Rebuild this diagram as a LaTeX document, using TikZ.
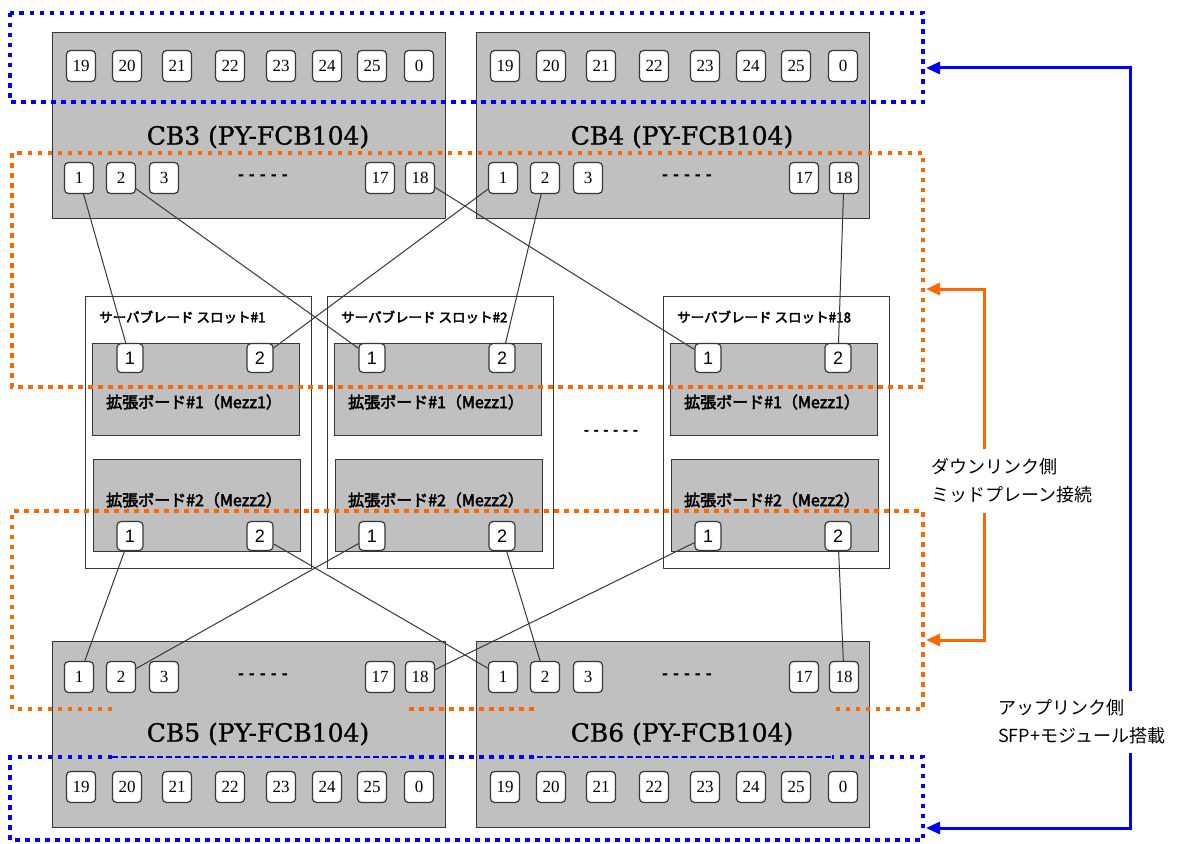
\documentclass[tikz,border=0pt]{standalone}
\usepackage{fontspec}
\usetikzlibrary{arrows.meta}
\newfontfamily\jpfont{Noto Sans CJK JP}
\newfontfamily\jpbold[FakeBold=3]{Noto Sans CJK JP}
\newfontfamily\cbfont[FakeBold=1]{DejaVu Serif}
\newfontfamily\numfont{Liberation Serif}
\newfontfamily\sansnum{Liberation Sans}
\definecolor{boxgray}{RGB}{192,192,192}
\definecolor{edgegray}{RGB}{55,55,55}
\definecolor{upblue}{RGB}{0,0,255}
\definecolor{downorange}{RGB}{255,102,0}

\tikzset{
  cbbox/.style={draw=edgegray, fill=boxgray, line width=1.4pt, minimum width=393pt, minimum height=186pt, inner sep=0pt, anchor=north west},
  cbname/.style={font=\cbfont\fontsize{25}{25}\selectfont, inner sep=0pt},
  cbport/.style={draw=edgegray, fill=white, line width=1.2pt, rounded corners=4pt, minimum width=29pt, minimum height=31pt, inner sep=0pt, font=\numfont\fontsize{17}{17}\selectfont},
  slotbox/.style={draw=edgegray, fill=white, line width=1.2pt, minimum width=226pt, minimum height=272pt, inner sep=0pt, anchor=north west},
  mezzbox/.style={draw=edgegray, fill=boxgray, line width=1.4pt, minimum width=207pt, minimum height=92pt, inner sep=0pt, anchor=north west},
  mezzport/.style={draw=edgegray, fill=white, line width=1.2pt, rounded corners=4pt, minimum width=26pt, minimum height=29pt, inner sep=0pt, font=\sansnum\fontsize{18}{18}\selectfont},
  slottitle/.style={font=\jpbold\fontsize{13.5}{13.5}\selectfont, inner sep=0pt, anchor=west},
  mezzname/.style={font=\jpbold\fontsize{16}{16}\selectfont, inner sep=0pt},
  dashtext/.style={font=\sansnum\bfseries\fontsize{18}{18}\selectfont, inner sep=0pt},
  wire/.style={draw=edgegray, line width=1pt},
  upframe/.style={draw=upblue, line width=4.5pt, dash pattern=on 4.5pt off 5.5pt},
  upthin/.style={draw=upblue, line width=1.2pt, dash pattern=on 6pt off 3pt},
  downframe/.style={draw=downorange, line width=4.5pt, dash pattern=on 4.5pt off 5.5pt},
  sidelabel/.style={font=\jpfont\fontsize{18}{28}\selectfont, align=left, inner xsep=0pt, inner ysep=9pt, anchor=west},
  uparrow/.style={draw=upblue, line width=3pt, -{Triangle[length=14pt,width=12pt]}},
  downarrow/.style={draw=downorange, line width=3pt, -{Triangle[length=14pt,width=12pt]}}
}

\begin{document}
\begin{tikzpicture}[x=1pt, y=-1pt]
\useasboundingbox (0,0) rectangle (1196,843);

% connection blades
\foreach \cb/\ox/\ty/\yu/\yd/\yl in {3/0/32/66/178/137, 4/424/32/66/178/137, 5/0/641/787/677/734, 6/424/641/787/677/734} {
  \node[cbbox] (cb\cb) at (52+\ox,\ty) {};
  \node[cbname] (cb\cb-name) at (258+\ox,\yl) {CB\cb\ (PY-FCB104)};
  \foreach \p/\x in {19/81,20/127,21/177,22/230,23/281,24/327,25/372,0/419}
    \node[cbport] (cb\cb-\p) at (\x+\ox,\yu) {\p};
  \foreach \p/\x in {1/79,2/121,3/164,17/380,18/420}
    \node[cbport] (cb\cb-\p) at (\x+\ox,\yd) {\p};
  \node[dashtext] (cb\cb-dots) at (263+\ox,\yd) {- - - - -};
}

% server blade slots
\foreach \s/\ox in {1/0, 2/242, 18/578} {
  \node[slotbox] (slot\s) at (85+\ox,296) {};
  \node[slottitle] (slot\s-title) at (99+\ox,317) {サーバブレード スロット\#\s};
  \node[mezzbox] (slot\s-m1) at (92+\ox,343) {};
  \node[mezzbox] (slot\s-m2) at (93+\ox,459) {};
  \node[mezzname] (slot\s-m1-name) at (194+\ox,402) {拡張ボード\#1（Mezz1）};
  \node[mezzname] (slot\s-m2-name) at (194+\ox,500) {拡張ボード\#2（Mezz2）};
  \node[mezzport] (slot\s-m1-1) at (130+\ox,358) {1};
  \node[mezzport] (slot\s-m1-2) at (260+\ox,358) {2};
  \node[mezzport] (slot\s-m2-1) at (130+\ox,536) {1};
  \node[mezzport] (slot\s-m2-2) at (260+\ox,536) {2};
}
\node[dashtext, font=\sansnum\bfseries\fontsize{16}{16}\selectfont] (slot-dots) at (611,433) {- - - - - -};

% midplane wiring
\draw[wire] (cb3-1) -- (slot1-m1-1);
\draw[wire] (cb3-2) -- (slot2-m1-1);
\draw[wire] (cb3-18) -- (slot18-m1-1);
\draw[wire] (cb4-1) -- (slot1-m1-2);
\draw[wire] (cb4-2) -- (slot2-m1-2);
\draw[wire] (cb4-18) -- (slot18-m1-2);
\draw[wire] (slot1-m2-1) -- (cb5-1);
\draw[wire] (slot1-m2-2) -- (cb6-1);
\draw[wire] (slot2-m2-1) -- (cb5-2);
\draw[wire] (slot2-m2-2) -- (cb6-2);
\draw[wire] (slot18-m2-1) -- (cb5-18);
\draw[wire] (slot18-m2-2) -- (cb6-18);

% uplink / downlink areas
\draw[upframe] (10,13) rectangle (923,102);
\draw[downframe] (12,153) rectangle (923,387);
\draw[downframe] (112,709) -- (12,709) -- (12,511) -- (923,511) -- (923,709) -- (832,709);
\draw[downframe] (409,709) -- (537,709);
\draw[upframe] (112,757) -- (10,757) -- (10,840) -- (923,840) -- (923,757) -- (832,757);
\draw[upframe] (409,757) -- (537,757);
\draw[upthin] (112,757) -- (409,757);
\draw[upthin] (537,757) -- (832,757);

% side labels
\node[sidelabel] (downlabel) at (931,481) {ダウンリンク側\\ミッドプレーン接続};
\node[sidelabel] (uplabel) at (998,722) {アップリンク側\\SFP+モジュール搭載};
\coordinate (down-x) at (984,0);
\coordinate (up-x) at (1130,0);
\coordinate (down-in1) at (926,289);
\coordinate (down-in2) at (926,640);
\coordinate (up-in1) at (926,68);
\coordinate (up-in2) at (926,828);
\draw[downarrow] (downlabel.north -| down-x) |- (down-in1);
\draw[downarrow] (downlabel.south -| down-x) |- (down-in2);
\draw[uparrow] (uplabel.north -| up-x) |- (up-in1);
\draw[uparrow] (uplabel.south -| up-x) |- (up-in2);

\end{tikzpicture}
\end{document}
